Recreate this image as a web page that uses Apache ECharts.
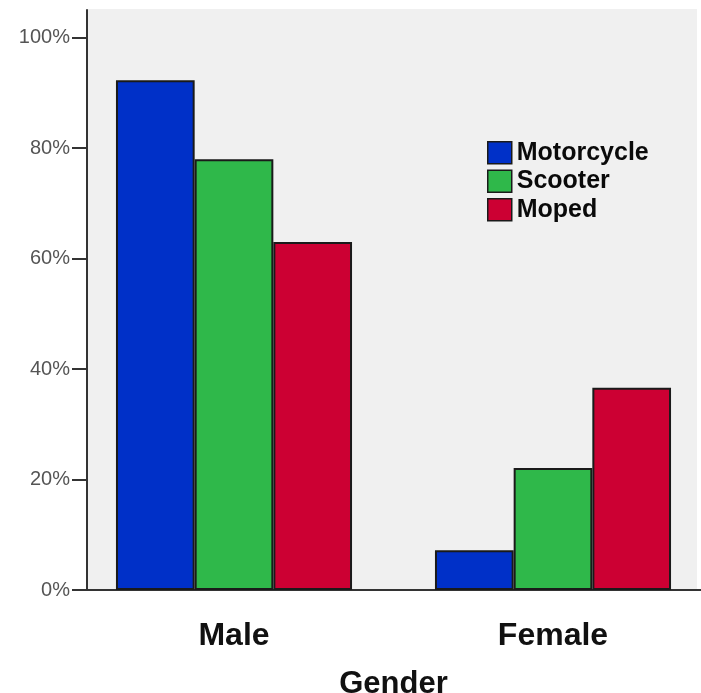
<!DOCTYPE html>
<html>
<head>
<meta charset="utf-8">
<script src="https://cdn.jsdelivr.net/npm/echarts@6/dist/echarts.min.js"></script>
<style>html,body{margin:0;padding:0;background:#fff;}#c{width:701px;height:693px;}</style>
</head>
<body>
<div id="c"></div>
<script>
const categories = ['Male', 'Female'];
const seriesNames = ['Motorcycle', 'Scooter', 'Moped'];
const motorcycle = [92.3, 7.2];
const scooter = [78.0, 22.1];
const moped = [63.0, 36.6];
const yTicks = [0, 20, 40, 60, 80, 100];
const colors = ['#0030c8', '#2fb84a', '#cc0033'];
const values = [motorcycle, scooter, moped];

const FONT = '"Liberation Sans", Arial, Helvetica, sans-serif';
const chart = echarts.init(document.getElementById('c'), null, {renderer: 'canvas'});
chart.setOption({
  animation: false,
  backgroundColor: '#ffffff',
  graphic: [{
    type: 'rect', z: -100, silent: true,
    shape: {x: 87, y: 9, width: 610, height: 581},
    style: {fill: '#f0f0f0'}
  }],
  grid: {left: 74.5, width: 638, top: 10, bottom: 103, containLabel: false, outerBoundsMode: 'none'},
  legend: {
    data: seriesNames,
    orient: 'vertical',
    left: 487, top: 140.2,
    padding: 0,
    itemWidth: 24, itemHeight: 22, itemGap: 3.5,
    icon: 'rect',
    itemStyle: {borderColor: '#1a1a1a', borderWidth: 1.5},
    textStyle: {fontFamily: FONT, fontWeight: 'bold', fontSize: 25, lineHeight: 22, color: '#0a0a0a'}
  },
  xAxis: {
    type: 'category',
    data: categories,
    name: 'Gender',
    nameLocation: 'middle',
    nameGap: 79,
    nameTextStyle: {fontFamily: FONT, fontWeight: 'bold', fontSize: 31, color: '#111'},
    axisLine: {lineStyle: {color: '#333', width: 2}},
    axisTick: {alignWithLabel: true, length: 23, lineStyle: {color: '#333', width: 2}},
    axisLabel: {fontFamily: FONT, fontWeight: 'bold', fontSize: 32, color: '#111', margin: 30}
  },
  yAxis: {
    type: 'value',
    min: 0, max: 105, interval: 20,
    offset: -12.5,
    splitLine: {show: false},
    axisLine: {show: true, lineStyle: {color: '#333', width: 2}},
    axisTick: {show: true, length: 15, customValues: yTicks, lineStyle: {color: '#333', width: 2}},
    axisLabel: {
      customValues: yTicks,
      fontFamily: FONT, fontSize: 20, color: '#555', margin: 17,
      formatter: v => v + '%'
    }
  },
  series: seriesNames.map((n, i) => ({
    name: n,
    type: 'bar',
    data: values[i],
    barGap: '0%',
    barCategoryGap: '26%',
    itemStyle: {color: colors[i], borderColor: '#1a1a1a', borderWidth: 2}
  }))
});
</script>
</body>
</html>
